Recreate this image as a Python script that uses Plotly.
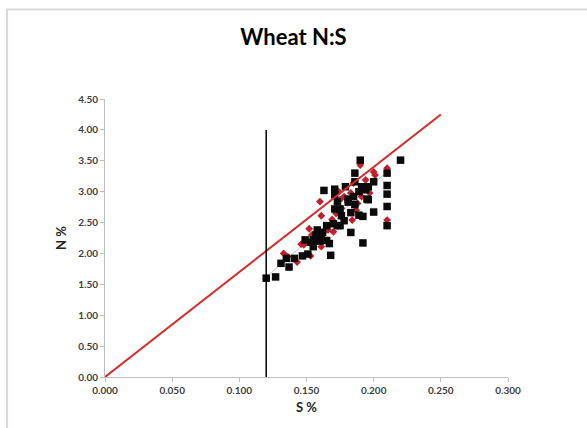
import plotly.graph_objects as go

# Black squares series (S %, N %)
sq_s = [0.120, 0.127, 0.131, 0.135, 0.137, 0.141, 0.147, 0.151, 0.149, 0.155, 0.155, 0.159,
        0.158, 0.161, 0.162, 0.165, 0.165, 0.167, 0.168, 0.163, 0.171, 0.171, 0.171, 0.173,
        0.173, 0.175, 0.175, 0.176, 0.178, 0.179, 0.181, 0.181, 0.183, 0.183, 0.185, 0.186,
        0.186, 0.186, 0.190, 0.189, 0.189, 0.191, 0.192, 0.192, 0.194, 0.195, 0.196, 0.196,
        0.200, 0.200, 0.210, 0.210, 0.210, 0.210, 0.210, 0.220, 0.153, 0.157, 0.160, 0.170]
sq_n = [1.60, 1.62, 1.84, 1.92, 1.78, 1.92, 1.96, 1.99, 2.22, 2.11, 2.22, 2.22,
        2.38, 2.27, 2.34, 2.45, 2.21, 2.16, 1.97, 3.02, 3.04, 2.95, 2.72, 2.84,
        2.45, 2.72, 2.45, 2.61, 2.53, 3.08, 2.88, 2.83, 2.66, 2.34, 2.92, 3.30,
        3.16, 2.79, 3.51, 3.00, 2.62, 3.08, 2.60, 2.17, 3.03, 2.88, 2.87, 3.08,
        3.16, 2.67, 3.30, 3.10, 2.96, 2.76, 2.45, 3.51, 2.18, 2.30, 2.20, 2.48]

# Red diamonds series
dm_s = [0.133, 0.136, 0.143, 0.146, 0.148, 0.152, 0.153, 0.154, 0.157, 0.160, 0.161, 0.161,
        0.163, 0.166, 0.169, 0.170, 0.172, 0.174, 0.175, 0.176, 0.178, 0.183, 0.184, 0.185,
        0.187, 0.188, 0.190, 0.191, 0.194, 0.197, 0.200, 0.210, 0.210, 0.201]
dm_n = [2.00, 1.95, 1.86, 2.15, 2.14, 2.40, 1.96, 2.30, 2.28, 2.84, 2.61, 2.11,
        2.35, 2.38, 2.55, 2.35, 2.65, 3.00, 2.87, 2.73, 2.92, 2.98, 2.54, 3.14,
        2.70, 2.81, 3.43, 2.92, 3.19, 2.98, 3.32, 3.38, 2.54, 3.27]

# Reference lines
ratio_s = [0.0, 0.25]
ratio_n = [0.0, 4.25]
crit_s = [0.12, 0.12]
crit_n = [0.0, 4.0]
trend_s = [0.12, 0.21]
trend_n = [1.62, 3.32]

x_ticks = [0.0, 0.05, 0.10, 0.15, 0.20, 0.25, 0.30]
y_ticks = [0.0, 0.5, 1.0, 1.5, 2.0, 2.5, 3.0, 3.5, 4.0, 4.5]

fig = go.Figure()
fig.add_trace(go.Scatter(x=trend_s, y=trend_n, mode="lines",
                         line=dict(color="#bfbfbf", width=1), showlegend=False))
fig.add_trace(go.Scatter(x=dm_s, y=dm_n, mode="markers",
                         marker=dict(symbol="diamond", size=6, color="#c0202a"), showlegend=False))
fig.add_trace(go.Scatter(x=sq_s, y=sq_n, mode="markers",
                         marker=dict(symbol="square", size=7.5, color="#0a0a0a"), showlegend=False))
fig.add_trace(go.Scatter(x=ratio_s, y=ratio_n, mode="lines",
                         line=dict(color="#d42a2a", width=2), showlegend=False))
fig.add_trace(go.Scatter(x=crit_s, y=crit_n, mode="lines",
                         line=dict(color="#000000", width=1.5), showlegend=False))

tickfont = dict(family="Lato", size=10, color="#404040", weight="bold")
fig.update_layout(
    width=587, height=428,
    margin=dict(l=105, r=79, t=99, b=51),
    paper_bgcolor="white", plot_bgcolor="white",
    title=dict(text="Wheat N:S", x=0.5, xanchor="center", y=0.912, yanchor="middle",
               font=dict(family="Lato", size=22, color="#000000", weight="bold")),
    xaxis=dict(range=[0, 0.3], tickvals=x_ticks, tickformat=".3f", showgrid=False,
               zeroline=False, showline=True, linecolor="#bfbfbf", linewidth=1,
               ticks="outside", tickcolor="#bfbfbf", ticklen=4, tickfont=tickfont,
               title=dict(text="S %", font=dict(family="Lato", size=13, color="#262626", weight="bold"),
                          standoff=7)),
    yaxis=dict(range=[0, 4.5], tickvals=y_ticks, tickformat=".2f", showgrid=False,
               zeroline=False, showline=True, linecolor="#bfbfbf", linewidth=1,
               ticks="outside", tickcolor="#bfbfbf", ticklen=4, tickfont=tickfont,
               title=dict(text="N %", font=dict(family="Lato", size=13, color="#262626", weight="bold"),
                          standoff=8)),
    shapes=[dict(type="rect", xref="paper", yref="paper", x0=-0.243, x1=2.0, y0=-1.0, y1=1.322,
                 line=dict(color="#d9d9d9", width=2), layer="below")],
)

fig.write_html("out.html")
